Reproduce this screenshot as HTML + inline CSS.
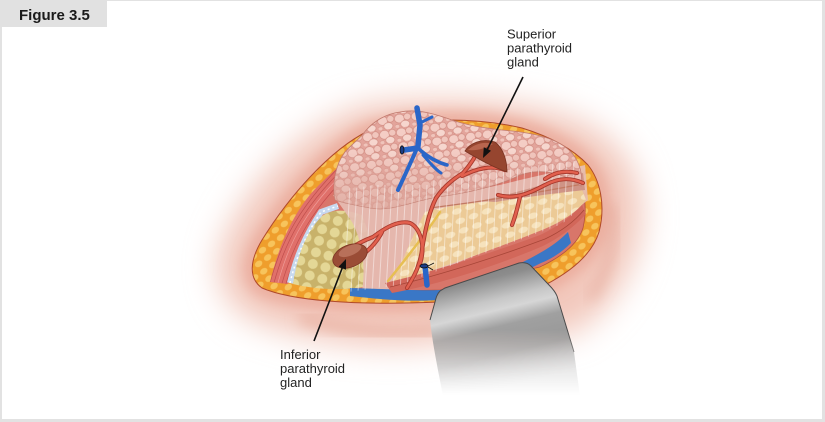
<!DOCTYPE html>
<html><head><meta charset="utf-8">
<style>
html,body{margin:0;padding:0;background:#fff;}
body{width:825px;height:422px;overflow:hidden;position:relative;}
svg{position:absolute;left:0;top:0;}
text{font-family:"Liberation Sans",Arial,sans-serif;}
</style></head>
<body>
<svg width="825" height="422" viewBox="0 0 825 422" xmlns="http://www.w3.org/2000/svg">
<defs>
  <filter id="blur16" x="-30%" y="-30%" width="160%" height="160%"><feGaussianBlur stdDeviation="16"/></filter>
  <filter id="blur7" x="-30%" y="-30%" width="160%" height="160%"><feGaussianBlur stdDeviation="7"/></filter>
  <pattern id="orangeFat" width="11" height="9" patternUnits="userSpaceOnUse" patternTransform="rotate(-35)">
    <rect width="11" height="9" fill="#ef9e2c"/>
    <ellipse cx="5.5" cy="4.5" rx="4" ry="3" fill="#f7c45c"/>
  </pattern>
  <pattern id="yfat" width="13" height="12" patternUnits="userSpaceOnUse" patternTransform="rotate(15)">
    <rect width="13" height="12" fill="#c8b26a"/>
    <circle cx="6.5" cy="6" r="5" fill="#e4d796"/>
  </pattern>
  <pattern id="cells" width="17" height="14" patternUnits="userSpaceOnUse" patternTransform="rotate(-8)">
    <rect width="17" height="14" fill="#e3a49b"/>
    <ellipse cx="5" cy="5" rx="5" ry="4.4" fill="#f4cdc5" stroke="#d08a80" stroke-width="0.6"/>
    <ellipse cx="13" cy="4" rx="3.6" ry="3.4" fill="#f1c6bd" stroke="#d08a80" stroke-width="0.6"/>
    <ellipse cx="10" cy="11" rx="4.6" ry="3.6" fill="#f6d6ce" stroke="#d08a80" stroke-width="0.6"/>
    <ellipse cx="2" cy="12.5" rx="2.4" ry="2" fill="#f0c4bb" stroke="#d08a80" stroke-width="0.5"/>
  </pattern>
  <pattern id="cream" width="14" height="10" patternUnits="userSpaceOnUse" patternTransform="rotate(-20)">
    <rect width="14" height="10" fill="#ecca96"/>
    <ellipse cx="7" cy="5" rx="5" ry="3" fill="#f6e2bc"/>
  </pattern>
  <linearGradient id="retr" gradientUnits="userSpaceOnUse" x1="440" y1="262" x2="472" y2="395">
    <stop offset="0" stop-color="#767676"/>
    <stop offset="0.2" stop-color="#8c8c8c"/>
    <stop offset="0.36" stop-color="#c6c6c6"/>
    <stop offset="0.44" stop-color="#d6d6d6"/>
    <stop offset="0.56" stop-color="#a0a0a0"/>
    <stop offset="0.76" stop-color="#989898"/>
    <stop offset="1" stop-color="#c8c8c8"/>
  </linearGradient>
  <linearGradient id="fadeG" gradientUnits="userSpaceOnUse" x1="0" y1="330" x2="0" y2="395">
    <stop offset="0" stop-color="#fff"/>
    <stop offset="1" stop-color="#000"/>
  </linearGradient>
  <mask id="retrMask" maskUnits="userSpaceOnUse" x="400" y="250" width="200" height="160">
    <rect x="400" y="250" width="200" height="160" fill="url(#fadeG)"/>
  </mask>
  <linearGradient id="thyFade" gradientUnits="userSpaceOnUse" x1="0" y1="150" x2="0" y2="212">
    <stop offset="0" stop-color="#dba59a" stop-opacity="0"/>
    <stop offset="1" stop-color="#dba59a" stop-opacity="0.8"/>
  </linearGradient>
  <clipPath id="muscleClip"><path d="M270,282 C279,245 294,210 318,186 C332,172 346,160 357,152 L365,163 C348,176 334,191 322,206 C306,229 295,253 288,284 Z"/></clipPath>
  <clipPath id="streakClip"><path d="M336,190 L582,160 L584,205 L562,224 L400,285 L348,292 Z"/></clipPath>

  <path id="a1" d="M407,288 C415,275 420,265 422,250 C425,230 430,210 436,198 C445,185 455,178 463,173 C470,165 475,158 478,150"/>
  <path id="a1b" d="M462,176 C478,168 492,165 505,170"/>
  <path id="a2" d="M498,195 C515,200 530,193 545,185 C558,178 570,177 583,183"/>
  <path id="a2b" d="M520,197 C518,205 516,215 512,225"/>
  <path id="a2c" d="M545,179 C555,172 565,170 577,173"/>
  <path id="a3" d="M420,264 C426,245 420,228 410,223 C398,220 385,228 373,237 C365,240 358,243 350,249"/>
  <path id="a3b" d="M382,232 C378,240 372,247 366,252"/>
</defs>

<!-- frame -->
<rect x="0" y="0" width="825" height="1" fill="#e2e2e2"/>
<rect x="0" y="0" width="2" height="422" fill="#e2e2e2"/>
<rect x="822" y="0" width="3" height="422" fill="#e2e2e2"/>
<rect x="0" y="419" width="825" height="3" fill="#e2e2e2"/>
<rect x="0" y="0" width="107" height="27" fill="#e1e1e1"/>
<text x="19" y="20" font-size="15" font-weight="bold" fill="#1a1a1a">Figure 3.5</text>

<!-- glow -->
<path d="M372,104 C318,116 256,170 226,235 C209,272 220,310 265,325 C320,345 400,352 440,342 L572,334 C616,308 642,262 642,214 C642,172 620,140 582,122 C540,102 450,94 372,104 Z" fill="#f2c8bc" filter="url(#blur16)"/>
<path d="M368,131 C330,150 290,195 262,240 C250,260 248,278 262,288 C290,300 350,306 440,302 L545,285 C570,272 592,255 599,232 C606,205 600,180 588,165 C572,148 548,136 522,128 C470,116 410,118 368,131 Z" fill="none" stroke="#eaa898" stroke-width="14" filter="url(#blur7)"/>
<path d="M300,318 C350,332 400,336 440,330" fill="none" stroke="#e6aa9a" stroke-width="8" filter="url(#blur7)"/>
<path d="M612,205 C616,240 610,270 590,300" fill="none" stroke="#e0a090" stroke-width="5" filter="url(#blur7)"/>

<!-- orange wound edge -->
<path d="M368,131 C330,150 290,195 262,240 C250,260 248,278 262,288 C290,300 350,306 440,302 L545,285 C570,272 592,255 599,232 C606,205 600,180 588,165 C572,148 548,136 522,128 C470,116 410,118 368,131 Z" fill="url(#orangeFat)" stroke="#b04a2a" stroke-width="1"/>

<!-- inner cavity -->
<path d="M374,144 C340,164 309,207 284,250 C276,263 276,272 285,278 C322,288 370,292 440,290 L540,267 C561,257 578,244 583,228 C588,206 584,187 575,174 C561,160 545,152 525,144 Z" fill="#d8766a" stroke="#b5503e" stroke-width="0.8"/>

<!-- muscle -->
<path d="M270,282 C279,245 294,210 318,186 C332,172 346,160 357,152 L365,163 C348,176 334,191 322,206 C306,229 295,253 288,284 Z" fill="#e0706a"/>
<g clip-path="url(#muscleClip)" fill="none" stroke="#bf4e4c" stroke-width="0.7">
  <path d="M268,290 C280,245 296,205 359,148"/>
  <path d="M272,290 C284,245 300,205 363,150"/>
  <path d="M276,290 C288,245 304,205 366,152" stroke="#ee9c98"/>
  <path d="M280,290 C292,248 308,208 368,156"/>
  <path d="M284,290 C296,250 312,210 370,160"/>
  <path d="M288,290 C300,252 316,212 372,164"/>
</g>

<!-- light blue strip -->
<path d="M290,283 C296,258 305,236 321,212 L338,206" fill="none" stroke="#c7d9ef" stroke-width="6"/>
<path d="M290,283 C296,258 305,236 321,212 L338,206" fill="none" stroke="#ffffff" stroke-width="1.5" stroke-dasharray="2 3"/>

<!-- yellow fat -->
<path d="M293,284 C297,256 306,232 322,216 C334,208 348,210 362,215 L372,242 L364,287 C338,291 314,289 293,284 Z" fill="url(#yfat)"/>

<!-- fascia base -->
<path d="M333,195 C380,205 450,198 520,180 L585,165 L588,200 C570,215 540,230 500,245 C460,262 420,278 395,289 L362,291 C366,268 362,240 352,222 C344,210 338,202 333,195 Z" fill="#e6bdb3" opacity="0.92"/>

<!-- cream region -->
<path d="M425,212 C450,205 475,203 500,200 C525,196 550,190 580,184 L586,200 C577,212 562,222 542,230 C492,250 442,268 392,283 C402,262 413,235 425,212 Z" fill="url(#cream)"/>
<path d="M480,201 C515,193 550,183 583,173 L585,190 C556,193 526,197 496,202 Z" fill="#cf9486"/>
<path d="M430,208 C470,203 520,196 583,184" fill="none" stroke="#c27a62" stroke-width="1.3"/>

<!-- red band and blue band -->
<path d="M350,288 C385,289 420,291 440,290 C480,282 515,268 545,250 C555,244 562,238 568,232 L571,243 C561,253 551,259 541,263 C506,281 471,293 440,300 C405,302 378,299 350,296 Z" fill="#3a77c6"/>
<path d="M385,283 C440,270 500,250 540,235 C555,228 570,218 582,205 L586,214 C573,228 559,238 543,246 C491,268 436,285 392,293 Z" fill="#d2675a"/>
<path d="M390,287 C445,274 505,254 545,239 C560,232 574,222 584,210" fill="none" stroke="#a84638" stroke-width="0.8"/>

<!-- thyroid -->
<path d="M363,134 C372,122 385,114 400,112 C420,108 440,116 455,121 C470,126 490,129 512,131 C540,134 560,140 572,153 C580,163 583,175 581,186 C562,172 540,168 520,175 C500,185 470,193 437,197 C410,202 390,212 370,208 C355,205 343,203 335,200 C332,185 335,165 345,152 C352,144 358,140 363,134 Z" fill="url(#cells)" stroke="#c07a6e" stroke-width="0.8"/>
<path d="M363,134 C372,122 385,114 400,112 C420,108 440,116 455,121 C470,126 490,129 512,131 C540,134 560,140 572,153 C580,163 583,175 581,186 C562,172 540,168 520,175 C500,185 470,193 437,197 C410,202 390,212 370,208 C355,205 343,203 335,200 C332,185 335,165 345,152 C352,144 358,140 363,134 Z" fill="url(#thyFade)"/>

<!-- fascia streaks -->
<g clip-path="url(#streakClip)" stroke="#ffffff" stroke-opacity="0.45" stroke-width="1" fill="none">
  <path d="M350,185 L344,292"/><path d="M357,185 L351,292"/><path d="M364,185 L358,292"/><path d="M371,185 L365,292"/>
  <path d="M378,185 L372,292"/><path d="M385,185 L379,292"/><path d="M392,185 L386,292"/><path d="M399,185 L393,292"/>
  <path d="M406,185 L400,292"/><path d="M413,185 L407,292"/><path d="M420,185 L414,292"/><path d="M427,185 L421,292"/>
  <path d="M434,180 L428,292"/><path d="M441,180 L435,292"/><path d="M448,180 L442,292"/><path d="M455,178 L449,292"/>
  <path d="M462,176 L456,292"/><path d="M469,176 L463,292"/><path d="M476,174 L470,292"/><path d="M483,172 L477,292"/>
  <path d="M490,170 L484,292"/><path d="M497,168 L491,292"/><path d="M504,166 L498,292"/><path d="M511,164 L505,292"/>
  <path d="M518,164 L512,292"/><path d="M525,162 L519,292"/><path d="M532,162 L526,292"/><path d="M539,162 L533,292"/>
  <path d="M546,160 L540,292"/><path d="M553,160 L547,292"/><path d="M560,160 L554,292"/><path d="M567,160 L561,292"/>
  <path d="M574,160 L568,292"/>
</g>

<!-- nerve -->
<path d="M440,212 C425,235 405,260 388,281" fill="none" stroke="#e7bf52" stroke-width="2.5" stroke-linecap="round"/>

<!-- arteries -->
<g fill="none" stroke="#a83a2e" stroke-width="4.2" stroke-linecap="round">
  <use href="#a1"/><use href="#a1b"/><use href="#a2"/><use href="#a2b"/><use href="#a2c"/><use href="#a3"/><use href="#a3b"/>
</g>
<g fill="none" stroke="#e2604e" stroke-width="2.4" stroke-linecap="round">
  <use href="#a1"/><use href="#a1b"/><use href="#a2"/><use href="#a2b"/><use href="#a2c"/><use href="#a3"/><use href="#a3b"/>
</g>

<!-- veins -->
<g fill="none" stroke="#2a66c8" stroke-linecap="round">
  <path d="M417,108 L420,125 L418,146" stroke-width="5.5"/>
  <path d="M418,146 C412,160 405,175 398,190" stroke-width="4"/>
  <path d="M420,150 C428,157 436,162 447,165" stroke-width="3.5"/>
  <path d="M423,155 C430,163 436,170 441,173" stroke-width="3"/>
  <path d="M420,123 L432,117" stroke-width="3"/>
  <path d="M418,148 L404,150" stroke-width="5.5"/>
  <path d="M425,266 L427,285" stroke-width="5.5"/>
</g>
<ellipse cx="402" cy="150" rx="2" ry="4.2" fill="#1c3d86" stroke="#111" stroke-width="0.8"/>
<ellipse cx="424" cy="266" rx="4" ry="2" fill="#1c3d86" stroke="#111" stroke-width="0.8"/>
<path d="M428,266 L434,263 M428,267 L433,270" stroke="#111" stroke-width="0.9"/>

<!-- parathyroid glands -->
<path d="M465,151 C470,143 482,138 495,142 C503,148 507,160 507,172 C495,168 480,160 465,151 Z" fill="#96452f" stroke="#7a3322" stroke-width="0.8"/>
<path d="M468,150 C474,144 484,141 493,144 C486,148 478,151 468,150 Z" fill="#b8654e"/>
<g transform="rotate(-22 350 256)">
  <ellipse cx="350" cy="256" rx="18" ry="11" fill="#9a4c36" stroke="#7a3322" stroke-width="0.8"/>
  <ellipse cx="352" cy="251" rx="12" ry="5" fill="#b8705a"/>
</g>

<!-- retractor -->
<g mask="url(#retrMask)">
  <path d="M440,291 C437,294 436,298 435,302 L430,320 C432,340 437,365 443,396 L580,396 L574,352 L557,296 C555,291 552,288 549,285 L531,266 C528,263 524,262 519,263 L445,288 Z" fill="url(#retr)"/>
  <path d="M430,320 L435,302 C436,298 437,294 440,291 L445,288 L519,263 C524,262 528,263 531,266 L549,285 C552,288 555,291 557,296 L574,352" fill="none" stroke="#4a4a4a" stroke-width="1"/>
</g>

<!-- arrows -->
<line x1="523" y1="77" x2="486" y2="152" stroke="#111" stroke-width="1.6"/>
<polygon points="483,158 491,150.8 483.8,147.2" fill="#111"/>
<line x1="314" y1="341" x2="343" y2="266" stroke="#111" stroke-width="1.6"/>
<polygon points="346,259 346,269.8 338.6,266.8" fill="#111"/>

<!-- labels -->
<g font-size="13" fill="#222">
  <text x="507" y="38.5">Superior</text>
  <text x="507" y="52.5">parathyroid</text>
  <text x="507" y="66.5">gland</text>
  <text x="280" y="359">Inferior</text>
  <text x="280" y="373">parathyroid</text>
  <text x="280" y="387">gland</text>
</g>
</svg>
</body></html>
